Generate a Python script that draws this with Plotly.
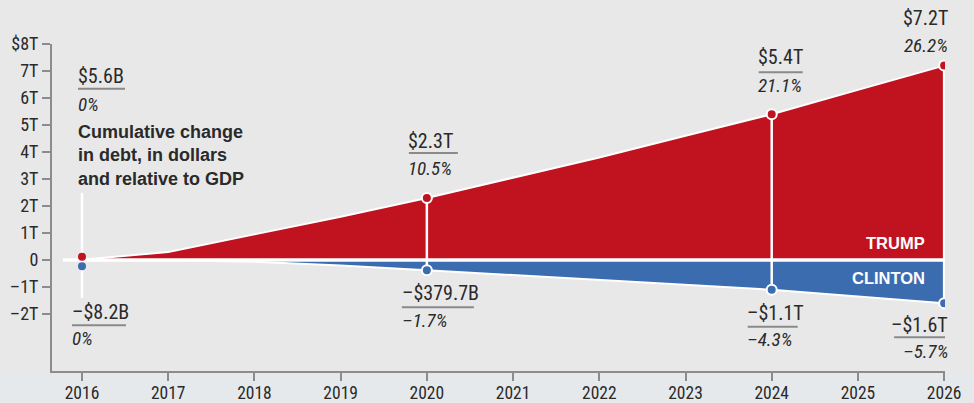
import plotly.graph_objects as go

# Cumulative change in federal debt under each candidate's plan (trillions of dollars)
years = list(range(2016, 2027))
trump = [0.0056, 0.30, 0.95, 1.60, 2.30, 3.05, 3.80, 4.60, 5.40, 6.30, 7.20]
clinton = [-0.0082, -0.01, -0.06, -0.20, -0.3797, -0.56, -0.74, -0.92, -1.10, -1.35, -1.60]

# Years that carry a callout
marked_years = [2016, 2020, 2024, 2026]
trump_labels = ["$5.6B", "$2.3T", "$5.4T", "$7.2T"]
trump_pct = ["0%", "10.5%", "21.1%", "26.2%"]
clinton_labels = ["–$8.2B", "–$379.7B", "–$1.1T", "–$1.6T"]
clinton_pct = ["0%", "–1.7%", "–4.3%", "–5.7%"]

# Axis ticks
y_tickvals = [-2, -1, 0, 1, 2, 3, 4, 5, 6, 7, 8]
y_ticktext = ["–2T", "–1T", "0", "1T", "2T", "3T", "4T", "5T", "6T", "7T", "$8T"]

RED = "#c1121f"
BLUE = "#3c6cb0"
BG = "#e8e8e8"
AXIS = "#8c8c8c"
INK = "#2a2a2a"
NARROW = "Liberation Sans Narrow, Roboto Condensed, DejaVu Sans Condensed, Arial Narrow, sans-serif"
BOLD = "Liberation Sans, Arial, sans-serif"

# Callout placement in pixels relative to the marked point:
# dx text edge, dy value text, dy rule, dy percent text, rule extent, alignment
top_place = [
    dict(dx=-6, dv=184, dr=171, dp=155, u0=-4, u1=43, align="left"),
    dict(dx=-21, dv=57, dr=45, dp=29, u0=-18, u1=31, align="left"),
    dict(dx=-16, dv=57, dr=42, dp=29, u0=-13, u1=31, align="left"),
    dict(dx=6, dv=48, dr=34, dp=20, u0=-38, u1=4, align="right"),
]
bottom_place = [
    dict(dx=-12, dv=-52, dr=-65, dp=-78, u0=-10, u1=44, align="left"),
    dict(dx=-27, dv=-23, dr=-37, dp=-50, u0=-25, u1=47, align="left"),
    dict(dx=-27, dv=-23, dr=-37, dp=-50, u0=-24, u1=26, align="left"),
    dict(dx=6, dv=-22, dr=-34, dp=-48, u0=-50, u1=4, align="right"),
]

fig = go.Figure()

# Filled areas with white edge strokes
fig.add_trace(go.Scatter(x=years, y=clinton, mode="lines", fill="tozeroy",
                         fillcolor=BLUE, line=dict(color="white", width=2),
                         hoverinfo="skip", showlegend=False))
fig.add_trace(go.Scatter(x=years, y=trump, mode="lines", fill="tozeroy",
                         fillcolor=RED, line=dict(color="white", width=2),
                         hoverinfo="skip", showlegend=False))

# White separator along zero
fig.add_trace(go.Scatter(x=[years[0] - 0.22, years[-1]], y=[0, 0], mode="lines",
                         line=dict(color="white", width=3.5),
                         hoverinfo="skip", showlegend=False))

idx = [years.index(y) for y in marked_years]

# Vertical connectors between the two series at the marked years (after 2016)
cx, cy = [], []
for i in idx[1:]:
    cx += [years[i], years[i], None]
    cy += [trump[i], clinton[i], None]
fig.add_trace(go.Scatter(x=cx, y=cy, mode="lines", line=dict(color="white", width=2.5),
                         hoverinfo="skip", showlegend=False))

# Point markers at marked years (after 2016)
fig.add_trace(go.Scatter(x=[years[i] for i in idx[1:]], y=[trump[i] for i in idx[1:]],
                         mode="markers",
                         marker=dict(color=RED, size=10, line=dict(color="white", width=2)),
                         hoverinfo="skip", showlegend=False))
fig.add_trace(go.Scatter(x=[years[i] for i in idx[1:]], y=[clinton[i] for i in idx[1:]],
                         mode="markers",
                         marker=dict(color=BLUE, size=10, line=dict(color="white", width=2)),
                         hoverinfo="skip", showlegend=False))

shapes = []
# Lighter band under the time axis
shapes.append(dict(type="rect", xref="paper", yref="paper", x0=-0.1, x1=1.1, y0=-0.2, y1=0,
                   fillcolor="#e6e9ec", line=dict(width=0), layer="below"))

# 2016 connector extends up toward the title text
i0 = idx[0]
shapes.append(dict(type="line", xref="x", yref="y", xsizemode="pixel", ysizemode="pixel",
                   xanchor=years[i0], yanchor=trump[i0], x0=0, x1=0, y0=-38, y1=67,
                   line=dict(color="white", width=2.5), layer="below"))
# 2016 dots, nudged apart since both values are near zero
shapes.append(dict(type="circle", xref="x", yref="y", xsizemode="pixel", ysizemode="pixel",
                   xanchor=years[i0], yanchor=trump[i0], x0=-4, x1=4, y0=-1, y1=7,
                   fillcolor=RED, line=dict(width=0), layer="above"))
shapes.append(dict(type="circle", xref="x", yref="y", xsizemode="pixel", ysizemode="pixel",
                   xanchor=years[i0], yanchor=clinton[i0], x0=-4, x1=4, y0=-10, y1=-2,
                   fillcolor=BLUE, line=dict(width=0), layer="above"))

annotations = []


def callout(year, value, text, pct, p):
    anchor = p["align"]
    annotations.append(dict(x=year, y=value, xref="x", yref="y", text=text,
                            showarrow=False, xanchor=anchor, yanchor="middle",
                            xshift=p["dx"], yshift=p["dv"],
                            font=dict(family=NARROW, size=20, color=INK)))
    annotations.append(dict(x=year, y=value, xref="x", yref="y", text="<i>" + pct + "</i>",
                            showarrow=False, xanchor=anchor, yanchor="middle",
                            xshift=p["dx"], yshift=p["dp"],
                            font=dict(family=NARROW, size=19, color=INK)))
    shapes.append(dict(type="line", xref="x", yref="y", xsizemode="pixel", ysizemode="pixel",
                       xanchor=year, yanchor=value, x0=p["u0"], x1=p["u1"],
                       y0=p["dr"], y1=p["dr"], line=dict(color="#8a8a8a", width=2),
                       layer="above"))


for k, i in enumerate(idx):
    callout(years[i], trump[i], trump_labels[k], trump_pct[k], top_place[k])
    callout(years[i], clinton[i], clinton_labels[k], clinton_pct[k], bottom_place[k])

# Chart description
annotations.append(dict(x=years[0], y=trump[0], xref="x", yref="y",
                        text="Cumulative change<br>in debt, in dollars<br>and relative to GDP",
                        showarrow=False, xanchor="left", yanchor="middle", align="left",
                        xshift=-6, yshift=104,
                        font=dict(family=BOLD, size=18, color=INK, weight="bold")))

# Series names inside the areas
annotations.append(dict(x=years[-1], y=0, xref="x", yref="y", text="<b>TRUMP</b>",
                        showarrow=False, xanchor="right", yanchor="middle",
                        xshift=-17, yshift=17,
                        font=dict(family=BOLD, size=16.5, color="white")))
annotations.append(dict(x=years[-1], y=0, xref="x", yref="y", text="<b>CLINTON</b>",
                        showarrow=False, xanchor="right", yanchor="middle",
                        xshift=-17, yshift=-18,
                        font=dict(family=BOLD, size=16.5, color="white")))

fig.update_layout(
    width=974, height=403,
    margin=dict(l=52, r=29, t=44, b=32),
    paper_bgcolor=BG, plot_bgcolor=BG,
    shapes=shapes, annotations=annotations,
    showlegend=False,
)
fig.update_xaxes(range=[2015.652, 2026.01], tickvals=years, ticktext=[str(y) for y in years],
                 showgrid=False, zeroline=False, showline=True, linecolor=AXIS, linewidth=2,
                 ticks="outside", ticklen=8, tickwidth=2, tickcolor=AXIS, automargin=False,
                 ticklabelstandoff=-3,
                 tickfont=dict(family=NARROW, size=17.5, color=INK))
fig.update_yaxes(range=[-4.11, 8], tickvals=y_tickvals, ticktext=y_ticktext,
                 showgrid=False, zeroline=False, showline=True, linecolor=AXIS, linewidth=2,
                 ticks="outside", ticklen=8, tickwidth=2, tickcolor=AXIS, automargin=False,
                 tickfont=dict(family=NARROW, size=18, color=INK))

fig.write_html("out.html")
